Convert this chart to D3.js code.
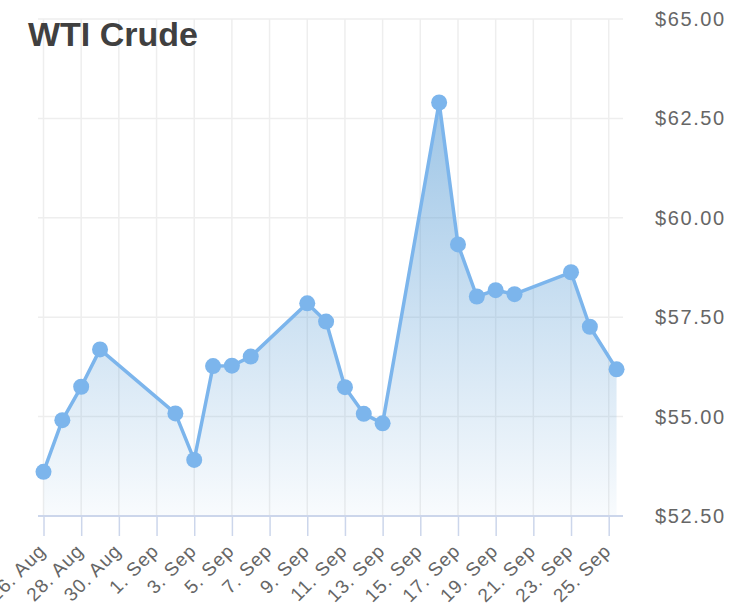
<!DOCTYPE html>
<html>
<head>
<meta charset="utf-8">
<script src="https://cdn.jsdelivr.net/npm/d3@7"></script>
<style>
  body { margin: 0; background: #fff; }
  svg { display: block; }
</style>
</head>
<body>
<div class="chart"></div>
<script>
// chart data
var dates = ["2019-08-26", "2019-08-27", "2019-08-28", "2019-08-29", "2019-09-02",
             "2019-09-03", "2019-09-04", "2019-09-05", "2019-09-06", "2019-09-09",
             "2019-09-10", "2019-09-11", "2019-09-12", "2019-09-13", "2019-09-16",
             "2019-09-17", "2019-09-18", "2019-09-19", "2019-09-20", "2019-09-23",
             "2019-09-24", "2019-09-25T10:00"];
var prices = [53.61, 54.91, 55.75, 56.69, 55.08,
              53.91, 56.27, 56.28, 56.51, 57.85,
              57.39, 55.74, 55.07, 54.83, 62.90,
              59.33, 58.02, 58.18, 58.08, 58.63,
              57.26, 56.19];
var tickDates = ["2019-08-26", "2019-08-28", "2019-08-30", "2019-09-01", "2019-09-03",
                 "2019-09-05", "2019-09-07", "2019-09-09", "2019-09-11", "2019-09-13",
                 "2019-09-15", "2019-09-17", "2019-09-19", "2019-09-21", "2019-09-23",
                 "2019-09-25"];
var priceTicks = [52.5, 55, 57.5, 60, 62.5, 65];
var title = "WTI Crude";

var width = 744,
    height = 609;
var plot = {left: 38, right: 623, top: 19, bottom: 516};

var parse = d3.utcParse("%Y-%m-%d"),
    parseTime = d3.utcParse("%Y-%m-%dT%H:%M");
function toDate(s) { return parse(s) || parseTime(s); }
var format = d3.utcFormat("%-d. %b");

var data = dates.map(function(d, i) { return {date: toDate(d), value: prices[i]}; });
var ticks = tickDates.map(toDate);

var x = d3.scaleUtc()
    .domain([ticks[0], ticks[ticks.length - 1]])
    .range([43.5, 608.7]);
var y = d3.scaleLinear()
    .domain([52.5, 65])
    .range([plot.bottom, plot.top]);

var svg = d3.select(".chart").append("svg")
    .attr("width", width)
    .attr("height", height);

var grad = svg.append("defs").append("linearGradient")
    .attr("id", "fill")
    .attr("x1", 0).attr("y1", 0).attr("x2", 0).attr("y2", 1);
grad.append("stop").attr("offset", 0).attr("stop-color", "#5d9fd6").attr("stop-opacity", 0.6);
grad.append("stop").attr("offset", 1).attr("stop-color", "#5d9fd6").attr("stop-opacity", 0.04);

// grid
svg.append("g").selectAll("line")
    .data(ticks)
  .enter().append("line")
    .attr("x1", function(d) { return x(d); })
    .attr("x2", function(d) { return x(d); })
    .attr("y1", plot.top)
    .attr("y2", plot.bottom)
    .attr("stroke", "#eeeeee")
    .attr("stroke-width", 1.5);

svg.append("g").selectAll("line")
    .data(priceTicks)
  .enter().append("line")
    .attr("x1", plot.left)
    .attr("x2", plot.right)
    .attr("y1", function(d) { return y(d); })
    .attr("y2", function(d) { return y(d); })
    .attr("stroke", "#eeeeee")
    .attr("stroke-width", 1.5);

// area + line
var area = d3.area()
    .x(function(d) { return x(d.date); })
    .y0(plot.bottom)
    .y1(function(d) { return y(d.value); });
var line = d3.line()
    .x(function(d) { return x(d.date); })
    .y(function(d) { return y(d.value); });

svg.append("path")
    .datum(data)
    .attr("fill", "url(#fill)")
    .attr("d", area);

// x axis
var xAxis = svg.append("g")
    .attr("transform", "translate(0," + plot.bottom + ")")
    .call(d3.axisBottom(x).tickValues(ticks).tickFormat(format).tickSize(20).tickPadding(0));
xAxis.select(".domain").remove();
xAxis.append("line")
    .attr("x1", plot.left).attr("x2", plot.right)
    .attr("stroke", "#ccd6eb").attr("stroke-width", 2);
xAxis.selectAll(".tick line").attr("stroke", "#ccd6eb").attr("stroke-width", 1.5);
xAxis.selectAll(".tick text")
    .attr("fill", "#666")
    .attr("font-family", "'Liberation Sans', Arial, sans-serif")
    .attr("font-size", "19px")
    .attr("letter-spacing", "1px")
    .attr("text-anchor", "end")
    .attr("dy", null)
    .attr("y", null)
    .attr("transform", "translate(3,36) rotate(-45)");

// y axis on the right
var yAxis = svg.append("g")
    .attr("transform", "translate(655,0)")
    .call(d3.axisRight(y).tickValues(priceTicks).tickSize(0).tickPadding(0)
      .tickFormat(function(d) { return "$" + d.toFixed(2); }));
yAxis.select(".domain").remove();
yAxis.selectAll(".tick text")
    .attr("fill", "#666")
    .attr("font-family", "'Liberation Sans', Arial, sans-serif")
    .attr("font-size", "20px")
    .attr("letter-spacing", "1.6px");

svg.append("path")
    .datum(data)
    .attr("fill", "none")
    .attr("stroke", "#7cb5ec")
    .attr("stroke-width", 3.5)
    .attr("stroke-linejoin", "round")
    .attr("d", line);

svg.append("g").selectAll("circle")
    .data(data)
  .enter().append("circle")
    .attr("cx", function(d) { return x(d.date); })
    .attr("cy", function(d) { return y(d.value); })
    .attr("r", 8)
    .attr("fill", "#7cb5ec");

svg.append("text")
    .attr("x", 28)
    .attr("y", 46)
    .attr("fill", "#404040")
    .attr("font-family", "'Liberation Sans', Arial, sans-serif")
    .attr("font-weight", "bold")
    .attr("font-size", "34px")
    .text(title);
</script>
</body>
</html>
